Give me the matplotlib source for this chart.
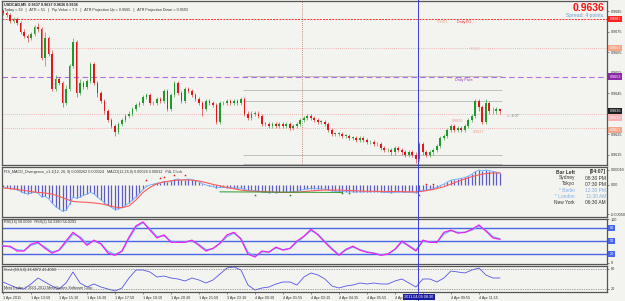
import numpy as np
import matplotlib.pyplot as plt
import matplotlib.transforms as mtransforms
from matplotlib.lines import Line2D

plt.rcParams['font.family'] = ['Liberation Sans', 'DejaVu Sans']

W, H = 625, 301
BG = '#f3f3ef'

# USDCAD candles, one per bar, in pips above 0.9600
first_open = 85
close_pips = [84, 83, 80, 81, 79, 75, 73, 72, 74, 77,
              76, 62, 72, 64, 47, 52, 50, 40, 47, 58,
              70, 45, 50, 48, 51, 59, 50, 45, 41, 36,
              32, 29, 26, 30, 32, 34, 35, 37, 39, 40,
              43, 44, 40, 40, 42, 41, 46, 37, 44, 50,
              45, 41, 47, 46, 44, 42, 40, 37, 41, 40,
              39, 31, 40, 40, 41, 40, 41, 40, 42, 35,
              33, 35, 35, 34, 30, 30, 29, 30, 29, 30,
              29, 30, 28, 29, 30, 32, 33, 34, 33, 32,
              31, 31, 30, 27, 25, 25, 25, 24, 24, 23,
              23, 22, 23, 22, 21, 21, 20, 20, 18, 17,
              17, 16, 18, 17, 16, 15, 16, 15, 13, 20,
              16, 15, 16, 17, 19, 23, 24, 27, 29, 27,
              28, 27, 29, 32, 34, 41, 38, 31, 40, 36,
              36, 37, 36]
high_pips = [86, 85, 84, 82, 82, 80, 76, 74, 75, 78,
             79, 77, 75, 73, 66, 54, 53, 51, 49, 59,
             72, 71, 52, 51, 52, 60, 60, 51, 46, 42,
             37, 33, 30, 31, 33, 35, 36, 38, 40, 41,
             44, 45, 45, 41, 43, 43, 47, 47, 45, 51,
             51, 46, 48, 48, 47, 45, 43, 41, 42, 42,
             41, 40, 41, 41, 42, 42, 42, 42, 43, 43,
             36, 36, 36, 36, 35, 31, 31, 31, 31, 31,
             31, 31, 31, 30, 31, 33, 34, 35, 35, 34,
             33, 32, 32, 31, 28, 26, 26, 26, 25, 25,
             24, 24, 24, 24, 23, 22, 22, 21, 21, 19,
             18, 18, 19, 19, 18, 17, 17, 17, 16, 21,
             21, 17, 17, 18, 20, 24, 25, 28, 30, 30,
             29, 29, 30, 33, 35, 42, 42, 39, 42, 41,
             38, 38, 37]
low_pips = [83, 82, 79, 79, 78, 74, 72, 70, 71, 73,
            75, 61, 58, 63, 46, 46, 49, 38, 39, 46,
            57, 43, 44, 47, 47, 50, 49, 43, 40, 35,
            31, 28, 24, 25, 29, 31, 33, 34, 36, 38,
            39, 42, 39, 39, 39, 40, 40, 36, 36, 43,
            44, 40, 40, 45, 43, 41, 39, 34, 36, 39,
            38, 30, 30, 39, 39, 39, 39, 39, 39, 34,
            32, 32, 34, 33, 29, 29, 28, 28, 28, 28,
            28, 28, 27, 27, 28, 29, 31, 32, 32, 31,
            30, 30, 29, 26, 24, 24, 24, 23, 23, 22,
            22, 21, 21, 21, 20, 20, 19, 19, 17, 16,
            16, 15, 15, 16, 15, 14, 14, 14, 11, 12,
            15, 14, 14, 15, 16, 18, 22, 23, 26, 26,
            26, 26, 26, 28, 31, 33, 36, 30, 30, 35,
            35, 35, 35]

# MACD histogram, units of 0.00001, one per bar
macd_hist = [-8, -10, -12, -14, -16, -22, -27, -30, -27, -25,
             -27, -40, -38, -45, -60, -72, -80, -88, -85, -65,
             -40, -45, -40, -35, -30, -25, -30, -40, -50, -60,
             -68, -75, -82, -80, -75, -68, -60, -50, -40, -28,
             -15, -5, 0, 3, 6, 8, 12, 10, 12, 18,
             20, 16, 18, 20, 18, 15, 10, 4, 0, -3,
             -5, -10, -8, -8, -10, -9, -10, -11, -10, -15,
             -18, -18, -20, -20, -24, -25, -26, -25, -26, -25,
             -25, -24, -24, -23, -21, -18, -15, -13, -12, -12,
             -13, -13, -14, -17, -20, -21, -22, -22, -23, -23,
             -23, -24, -23, -23, -23, -23, -23, -22, -24, -25,
             -25, -26, -24, -24, -24, -25, -24, -24, -27, -20,
             -18, -17, -15, -12, -8, -2, 3, 10, 16, 18,
             20, 22, 25, 30, 36, 45, 50, 47, 50, 48,
             45, 43, 40]

# the lines below are read every second bar
macd_signal = [-10, -12, -15, -18, -22, -25, -27, -30, -38, -47,
               -55, -57, -58, -60, -63, -68, -74, -76, -70, -50,
               -25, -8, 4, 10, 14, 16, 17, 16, 13, 8,
               2, -3, -8, -13, -17, -20, -21, -22, -23, -24,
               -25, -25, -24, -22, -20, -18, -17, -17, -17, -18,
               -19, -20, -21, -21, -22, -22, -22, -22, -23, -23,
               -21, -17, -12, -6, 3, 12, 20, 28, 34, 38,
               40, 40]
rsi_vals = [38, 38, 27, 27, 43, 47, 33, 22, 29, 50,
            70, 57, 40, 52, 43, 22, 17, 27, 59, 85,
            94, 75, 57, 64, 47, 47, 47, 52, 40, 27,
            33, 45, 64, 70, 54, 20, 13, 27, 24, 36,
            29, 33, 50, 61, 77, 64, 47, 31, 17, 31,
            38, 29, 24, 22, 17, 20, 31, 50, 38, 27,
            52, 47, 47, 70, 75, 68, 70, 77, 87, 73,
            57, 54]
rsx_vals = [40, 36, 30, 28, 40, 45, 36, 25, 28, 46,
            66, 60, 44, 50, 44, 26, 19, 26, 55, 82,
            92, 78, 60, 62, 50, 47, 48, 50, 42, 30,
            32, 44, 60, 68, 56, 24, 15, 25, 25, 34,
            30, 33, 47, 60, 74, 66, 49, 33, 19, 29,
            36, 30, 25, 22, 18, 20, 30, 47, 40, 29,
            49, 48, 46, 66, 74, 70, 70, 75, 84, 75,
            60, 55]
stoch_vals = [41, 32, 23, 20, 35, 53, 41, 29, 20, 38,
              71, 38, 26, 35, 26, 20, 14, 23, 53, 77,
              77, 71, 56, 59, 53, 50, 44, 53, 47, 38,
              47, 65, 83, 86, 77, 32, 17, 23, 26, 35,
              41, 41, 32, 56, 68, 62, 50, 29, 23, 29,
              32, 38, 35, 38, 35, 35, 44, 50, 38, 26,
              50, 50, 41, 53, 74, 71, 68, 77, 83, 62,
              53, 53]

bear_bars = [41, 45, 46, 49, 52, 121, 123]
bear_vals = [17, 23, 27, 33, 33, 3, 3]
bull_bars = [72, 82, 97, 99, 119]
bull_vals = [-33, -33, -27, -27, -33]
div_bars = [62, 97]
div_vals = [-23, -25]

# label under the cursor box is cut to the part that shows
time_labels = ['1 Apr 2011', '1 Apr 13:50', '1 Apr 15:10', '1 Apr 16:30',
               '1 Apr 17:50', '1 Apr 19:10', '1 Apr 20:30', '1 Apr 21:50',
               '3 Apr 23:10', '4 Apr 00:30', '4 Apr 01:55', '4 Apr 03:15',
               '4 Apr 04:35', '4 Apr 05:55', '4 Ap', '',
               '4 Apr 09:55', '4 Apr 11:15']
price_ticks = [0.9615, 0.9625, 0.9635, 0.9645, 0.9655, 0.9665, 0.9675, 0.9685]
clock_names = ['Bar Left', 'Sydney', 'Tokyo', '* Berlin', '* London', 'New York']
clock_times = ['[04:07]', '08:30 PM', '07:30 PM', '12:30 PM', '11:30 AM', '06:30 AM']

fig = plt.figure(figsize=(W / 100, H / 100), dpi=100, facecolor=BG)


def px_axes(x0, y0, x1, y1):
    a = fig.add_axes([x0 / W, 1 - y1 / H, (x1 - x0) / W, (y1 - y0) / H])
    a.set_facecolor(BG)
    a.set_xlim(-0.29, 172.6)
    for s in a.spines.values():
        s.set_color('#555555')
        s.set_linewidth(0.9)
    a.tick_params(axis='x', bottom=False, labelbottom=False)
    a.yaxis.tick_right()
    a.tick_params(axis='y', length=1.5, width=0.4, pad=1, labelsize=2.7,
                  colors='#333333')
    return a


def ftext(x, y, s, **kw):
    fig.text(x / W, 1 - y / H, s, va='center', **kw)


SMALL = 2.7
n = len(close_pips)
idx = np.arange(n)
half = np.arange(len(rsi_vals)) * 2

# ---------------- price ----------------
ax = px_axes(2, 1, 607, 165)
ax.set_ylim(0.960988, 0.968988)
ax.set_yticks(price_ticks)
ax.set_yticklabels(['%.4f' % p for p in price_ticks])

o = 0.96 + np.array([first_open] + close_pips[:-1]) / 1e4
c = 0.96 + np.array(close_pips) / 1e4
hi = 0.96 + np.array(high_pips) / 1e4
lo = 0.96 + np.array(low_pips) / 1e4
cols = np.where(c >= o, '#1f9a2a', '#e0161b')
ax.vlines(idx, lo, hi, colors=cols, lw=0.4, zorder=3)
ax.bar(idx, np.maximum(np.abs(c - o), 0.00003), bottom=np.minimum(o, c),
       width=0.55, color=cols, linewidth=0, zorder=3)

ax.axhline(0.9681, color='#ff3030', lw=0.7, ls=(0, (2, 1.2)), zorder=2)
ax.axhline(0.9667, color='#f0a0a0', lw=0.6, ls=(0, (1, 1.5)), zorder=2)
ax.axhline(0.9653, color='#b070e0', lw=0.8, ls=(0, (5, 3)), zorder=2)
ax.axhline(0.9635, color='#f0a0a0', lw=0.6, ls=(0, (1, 1.5)), zorder=2)
ax.axhline(0.9628, color='#f0a0a0', lw=0.6, ls=(0, (1, 1.5)), zorder=2)
for lvl in [0.96533, 0.96465, 0.96411, 0.9615, 0.96104]:
    ax.hlines(lvl, 68.6, 142.6, color='#b8b8b8', lw=0.6, zorder=2)
ax.axvline(85.4, color='#a87060', lw=0.6, ls=(0, (1, 1.5)), zorder=2)

tr = mtransforms.blended_transform_factory(ax.transAxes, ax.transData)
for p, txt, fc, tc in [(0.9681, '0.9681', '#ff2020', 'white'),
                       (0.9667, '0.9667', '#f4a58a', 'white'),
                       (0.9653, '0.9653', '#8a2aa8', 'white'),
                       (0.9636, '0.9636', '#202020', 'white'),
                       (0.9633, '0.9633', '#f8b4b4', 'white'),
                       (0.9627, '0.9627', '#f4a58a', 'white')]:
    ax.text(1.004, p, txt, transform=tr, fontsize=SMALL, color=tc, va='center',
            ha='left', clip_on=False, zorder=5,
            bbox=dict(boxstyle='square,pad=0.3', fc=fc, ec='none'))

ftext(4, 4, 'USDCAD,M5  0.9637 0.9637 0.9636 0.9636', fontsize=SMALL,
      color='#222222', fontweight='bold')
ftext(4, 9.5, 'Today = 39   |   ATR = 51   |   Pip Value = 7.3   |   '
      'ATR Projection Up = 0.9665   |   ATR Projection Down = 0.9593',
      fontsize=SMALL, color='#333333')
ftext(604, 8, '0.9636', fontsize=7.5, color='#ff1010', fontweight='bold', ha='right')
ftext(604, 15.5, 'Spread: 4 points.', fontsize=3.6, color='#6b9ad0', ha='right')
ftext(437, 22, '0.9681', fontsize=SMALL, color='#f0b090')
ftext(457, 22, 'Daily R1', fontsize=SMALL, color='#ff3030')
ftext(470, 49.5, '0.9667', fontsize=SMALL, color='#f0b8a8')
ftext(455, 80.5, 'Daily Pivot', fontsize=SMALL, color='#9040c0')
ftext(452, 121, '0.9635', fontsize=SMALL, color='#f09090')
ftext(473, 132, '0.9627', fontsize=SMALL, color='#f0a080')
ftext(507, 116, '<- 4:07', fontsize=SMALL, color='#808080')

# ---------------- MACD ----------------
am = px_axes(2, 167, 607, 217)
am.set_ylim(-107, 60)
am.set_yticks([50, 0, -97])
am.set_yticklabels(['0.00049', '0.00', '-0.00050'])
am.vlines(idx, 0, macd_hist, color='#5c5cc8', lw=0.9, zorder=2)
am.plot(idx, macd_hist, color='#66aaff', lw=0.6, zorder=3)
am.plot(half, macd_signal, color='#ff5a5a', lw=0.8, zorder=4)
am.plot(div_bars, div_vals, color='#2e9a2e', lw=0.7, zorder=4)
am.scatter(bear_bars, bear_vals, marker='*', s=4, color='#e01010', zorder=5, lw=0)
am.scatter(bull_bars, bull_vals, marker='*', s=4, color='#1a7a1a', zorder=5, lw=0)
ftext(4, 172, 'FIS_MACD_Divergence_v1.1(12, 26, 9) 0.000262 0.000324   '
      'MACD(12,26,9) 0.00026 0.00032   P4L Clock', fontsize=SMALL, color='#333333')
for k, (nm, tm) in enumerate(zip(clock_names, clock_times)):
    col = '#7fb0e6' if nm.startswith('*') else '#333333'
    fw = 'bold' if k == 0 else 'normal'
    ftext(575, 172 + 6 * k, nm, fontsize=3.5, color=col, ha='right', fontweight=fw)
    ftext(606, 172 + 6 * k, tm, fontsize=3.5, color=col, ha='right', fontweight=fw)

# ---------------- RSI ----------------
ar = px_axes(2, 219, 607, 264)
ar.set_ylim(-3, 100.7)
ar.set_yticks([100, 0])
ar.set_yticklabels(['100', '0'])
for lvl in [80, 50, 20]:
    ar.axhline(lvl, color='#4a66e8', lw=1.0, zorder=2)
    ar.text(1.004, lvl, str(lvl), transform=mtransforms.blended_transform_factory(
        ar.transAxes, ar.transData), fontsize=SMALL, color='white', va='center',
        clip_on=False, bbox=dict(boxstyle='square,pad=0.3', fc='#4a66e8', ec='none'))
ar.plot(half, rsx_vals, color='#66b4ff', lw=0.9, zorder=3)
ar.plot(half, rsi_vals, color='#f020f0', lw=0.9, zorder=4)
ftext(4, 222.5, 'RSI(14) 58.0099   RSX(2) 54.3380 54.0293', fontsize=SMALL, color='#333333')

# ---------------- Stochastic ----------------
ast = px_axes(2, 266, 607, 292)
ast.set_ylim(11, 89)
ast.set_yticks([80, 20])
ast.set_yticklabels(['80', '20'])
for lvl in [80, 20]:
    ast.axhline(lvl, color='#555555', lw=0.5, ls=(0, (1, 1.5)), zorder=2)
ast.plot(half, stoch_vals, color='#5555e8', lw=0.6, zorder=3)
ftext(4, 270, 'Stoch(10,6,6) 46.6972 41.4083', fontsize=SMALL, color='#333333')
ftext(4, 288.5, 'MetaTrader \u00a9 2001-2011 MetaQuotes Software Corp.',
      fontsize=SMALL, color='#333333')
ast.set_xticks(np.arange(len(time_labels)) * 8)
ast.set_xticklabels(time_labels, ha='left')
ast.tick_params(axis='x', bottom=True, labelbottom=True, length=1.5, width=0.4,
                pad=1.5, labelsize=SMALL, colors='#333333')

# cursor line across all panels
fig.add_artist(Line2D([418 / W, 418 / W], [0, 1], color='#3b3be0', lw=0.7, zorder=10))
ftext(419, 297, '2011.04.04 08:30', fontsize=SMALL, color='white', ha='center',
      zorder=11, bbox=dict(boxstyle='square,pad=0.3', fc='#1c1ca0', ec='none'))

fig.savefig('out.png', dpi=100, facecolor=BG)
